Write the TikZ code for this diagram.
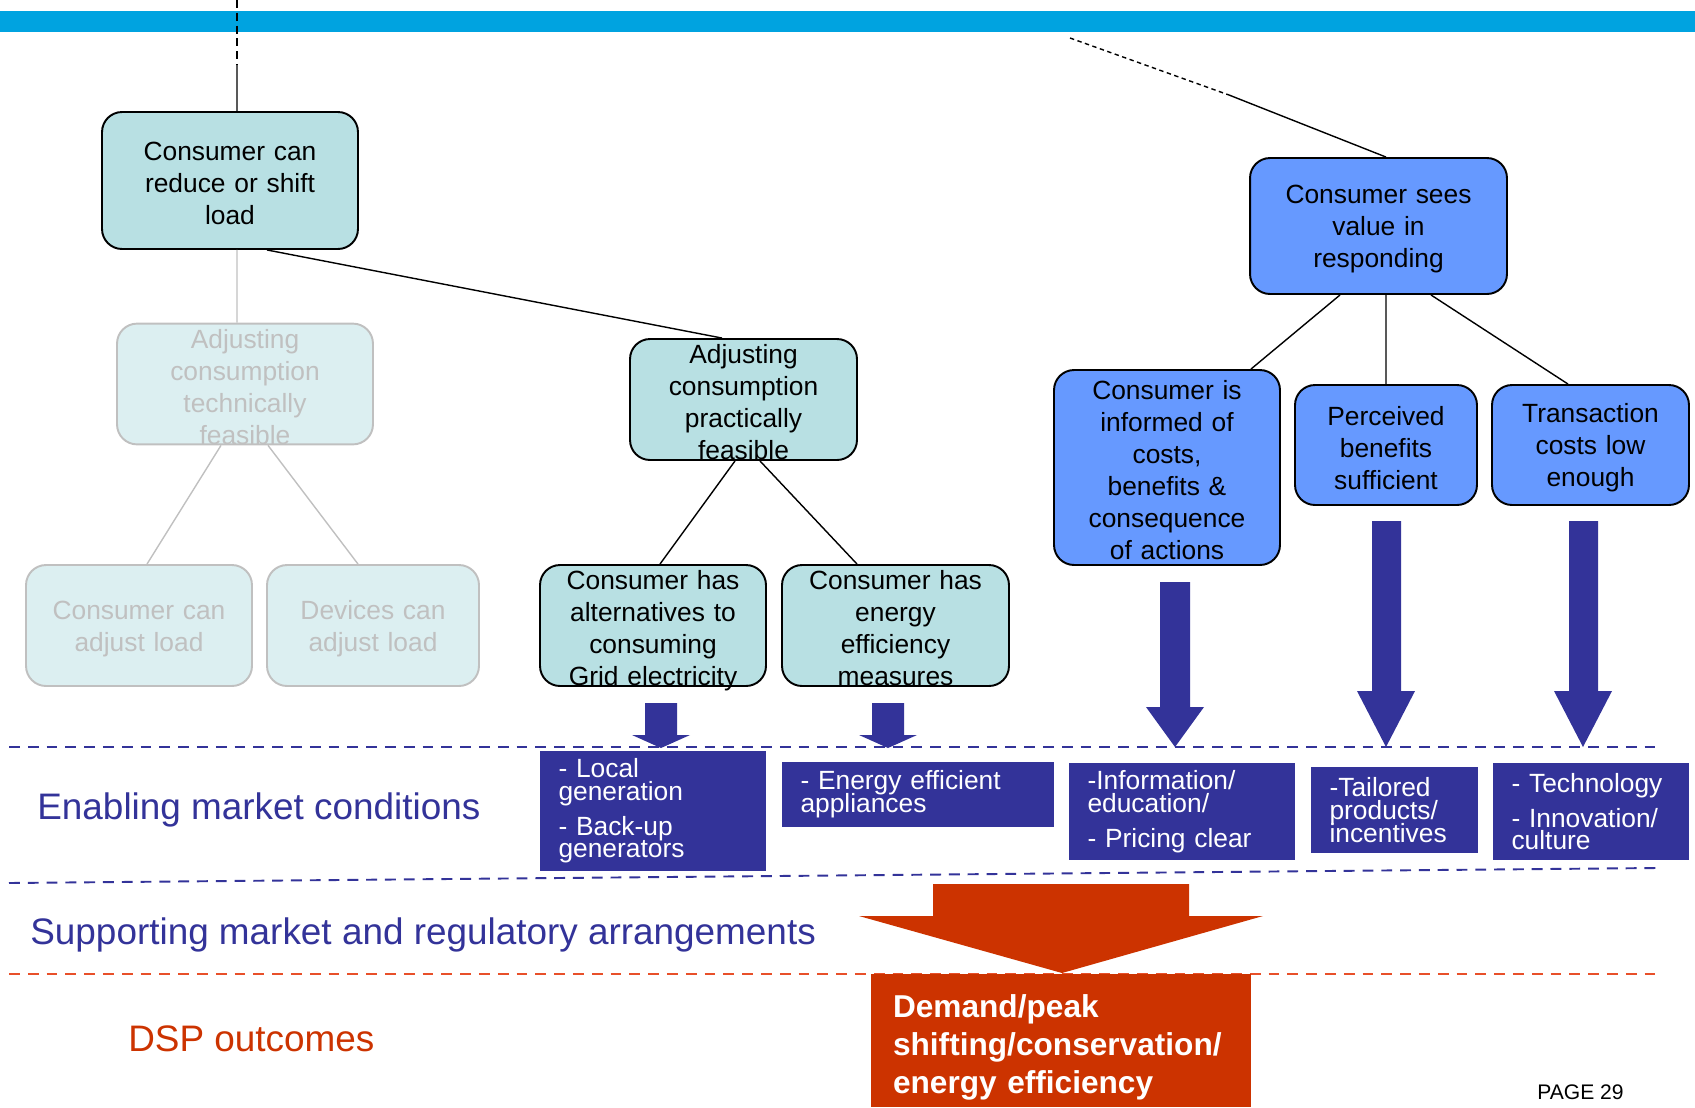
\documentclass[tikz,border=0pt]{standalone}
\usepackage{fontspec}
\setmainfont{Liberation Sans}
\usepackage{tikz}
\usetikzlibrary{positioning}

\definecolor{barblue}{HTML}{00A3E0}
\definecolor{tealfill}{HTML}{B8E0E3}
\definecolor{fadefill}{HTML}{DCEFF1}
\definecolor{fadegray}{HTML}{C0C0C0}
\definecolor{valueblue}{HTML}{6699FF}
\definecolor{condblue}{HTML}{333399}
\definecolor{dspred}{HTML}{CC3300}
\definecolor{dspdash}{HTML}{E8502A}

\newcommand{\boxtext}{\fontsize{15}{18.2}\selectfont}
\newcommand{\condtext}{\fontsize{15}{12.9}\selectfont\lineskiplimit=-20pt\lineskip=0pt}
\newcommand{\rowtext}{\fontsize{21}{25}\selectfont}

\begin{document}
\begin{tikzpicture}[x=0.02cm, y=-0.02cm,
    tealbox/.style={draw=black, line width=1.1pt, fill=tealfill, rounded corners=0.4cm,
        align=center, text width=4.2cm, inner sep=0pt, font=\boxtext,
        execute at begin node=\rule{0pt}{14pt}},
    fadebox/.style={tealbox, draw=fadegray, fill=fadefill, text=fadegray},
    valuebox/.style={tealbox, fill=valueblue},
    condbox/.style={fill=condblue, text=white, align=left, inner xsep=0.37cm,
        inner ysep=0pt, font=\condtext},
    link/.style={line width=0.8pt},
    fadelink/.style={line width=0.8pt, fadegray},
    rowdash/.style={condblue, line width=1.1pt, dash pattern=on 6.2pt off 4.5pt},
    rowlabel/.style={anchor=base west, inner sep=0pt, font=\rowtext}
]
\useasboundingbox (0,0) rectangle (1695,1107);

% top bar
\fill[barblue] (0,11) rectangle (1695,32);

% tree, left part
\node[tealbox, minimum width=5.12cm, minimum height=2.74cm] (reduce) at (230,180.5) {Consumer can\\reduce or shift\\load};
\node[fadebox, minimum width=5.12cm, minimum height=2.4cm] (techfeas) at (245,384) {Adjusting\\consumption\\technically\\feasible};
\node[tealbox, minimum width=4.54cm, minimum height=2.42cm] (practfeas) at (743.5,399.5) {Adjusting\\consumption\\practically\\feasible};
\node[fadebox, minimum width=4.52cm, minimum height=2.42cm] (consadj) at (139,625.5) {Consumer can\\adjust load};
\node[fadebox, minimum width=4.24cm, minimum height=2.42cm] (devadj) at (373,625.5) {Devices can\\adjust load};
\node[tealbox, minimum width=4.52cm, minimum height=2.42cm] (alt) at (653,625.5) {Consumer has\\alternatives to\\consuming\\\smash{Grid electricity}};
\node[tealbox, minimum width=4.54cm, minimum height=2.42cm] (effic) at (895.5,625.5) {Consumer has\\energy\\efficiency\\measures};

% tree, right part
\node[valuebox, minimum width=5.14cm, minimum height=2.72cm] (value) at (1378.5,226) {Consumer sees\\value in\\responding};
\node[valuebox, minimum width=4.52cm, minimum height=3.9cm] (informed) at (1167,467.5) {Consumer is\\informed of\\costs,\\benefits \&\\consequence\\of actions};
\node[valuebox, text width=3.4cm, minimum width=3.64cm, minimum height=2.4cm] (perceived) at (1386,445) {Perceived\\benefits\\sufficient};
\node[valuebox, text width=3.4cm, minimum width=3.94cm, minimum height=2.4cm] (transact) at (1590.5,445) {Transaction\\costs low\\enough};

% links to the rest of the tree
\coordinate (topl) at (237,0);
\coordinate (toplm) at (237,65);
\coordinate (topr) at (1070,38);
\coordinate (toprm) at (1229,95);
\draw[link, dash pattern=on 4.5pt off 2.8pt] (topl) -- (toplm);
\draw[link] (toplm) -- ([xshift=0.14cm]reduce.north);
\draw[link, dash pattern=on 2.5pt off 2pt] (topr) -- (toprm);
\draw[link] (toprm) -- ([xshift=0.15cm]value.north);

\draw[fadelink] ([xshift=0.14cm]reduce.south) -- ([xshift=-0.16cm]techfeas.north);
\draw[link] ([xshift=0.74cm]reduce.south) -- ([xshift=-0.43cm]practfeas.north);
\draw[fadelink] ([xshift=-0.48cm]techfeas.south) -- ([xshift=0.16cm]consadj.north);
\draw[fadelink] ([xshift=0.46cm]techfeas.south) -- ([xshift=-0.3cm]devadj.north);
\draw[link] ([xshift=-0.17cm]practfeas.south) -- ([xshift=0.14cm]alt.north);
\draw[link] ([xshift=0.33cm]practfeas.south) -- ([xshift=-0.77cm]effic.north);
\draw[link] ([xshift=-0.77cm]value.south) -- ([xshift=1.68cm]informed.north);
\draw[link] ([xshift=0.15cm]value.south) -- (perceived.north);
\draw[link] ([xshift=1.05cm]value.south) -- ([xshift=-0.45cm]transact.north);

% row dividers
\draw[rowdash] (9,747) -- (1656,747);
\draw[rowdash] (9,883) -- (1656,868);
\draw[dspdash, line width=1.1pt, dash pattern=on 6.2pt off 4.5pt] (9,974) -- (1656,974);

% block arrows
\fill[condblue] (645,703) -- (677,703) -- (677,735) -- (690,735) -- (661,748) -- (632,735) -- (645,735) -- cycle;
\fill[condblue] (872,703) -- (904,703) -- (904,735) -- (917,735) -- (888,748) -- (859,735) -- (872,735) -- cycle;
\fill[condblue] (1160,582) -- (1190,582) -- (1190,707) -- (1204,707) -- (1175,747) -- (1146,707) -- (1160,707) -- cycle;
\fill[condblue] (1372,521) -- (1401,521) -- (1401,691) -- (1415,691) -- (1386,747) -- (1357,691) -- (1372,691) -- cycle;
\fill[condblue] (1569,521) -- (1598,521) -- (1598,691) -- (1612,691) -- (1583,747) -- (1554,691) -- (1569,691) -- cycle;

% enabling market conditions
\node[condbox, text width=3.78cm, minimum height=2.4cm] (local) at (653,811) {- Local\\generation\\[7pt]- Back-up\\generators};
\node[condbox, text width=4.7cm, minimum height=1.3cm] (appl) at (918,794.5) {- Energy efficient\\appliances};
\node[condbox, text width=3.78cm, minimum height=1.94cm] (info) at (1182,811.5) {-Information/\\education/\\[7pt]- Pricing clear};
\node[condbox, text width=2.6cm, minimum height=1.72cm] (tailored) at (1394.5,810) {-Tailored\\products/\\incentives};
\node[condbox, text width=3.18cm, minimum height=1.94cm] (tech) at (1591,811.5) {- Technology\\[7pt]- Innovation/\\culture};

% outcome
\fill[dspred] (933,884) -- (1189,884) -- (1189,916) -- (1263,916) -- (1062,973) -- (859,916) -- (933,916) -- cycle;
\node[fill=dspred, text=white, align=left, text width=6.72cm, inner xsep=0.44cm, inner ysep=0pt,
    minimum width=7.6cm, minimum height=2.66cm, font=\fontsize{18}{21.8}\selectfont\bfseries] (dsp) at (1061,1040.5)
    {\rule{0pt}{21pt}Demand/peak\\shifting/conservation/\\energy efficiency};

% row labels
\node[rowlabel, text=condblue] (enabling) at (37,819) {Enabling market conditions};
\node[rowlabel, text=condblue] (supporting) at (30,944) {Supporting market and regulatory arrangements};
\node[rowlabel, text=dspred] (outcomes) at (128,1051) {DSP outcomes};
\node[anchor=base west, inner sep=0pt, font=\fontsize{12}{14}\selectfont] (page) at (1537,1099) {PAGE 29};
\end{tikzpicture}
\end{document}
